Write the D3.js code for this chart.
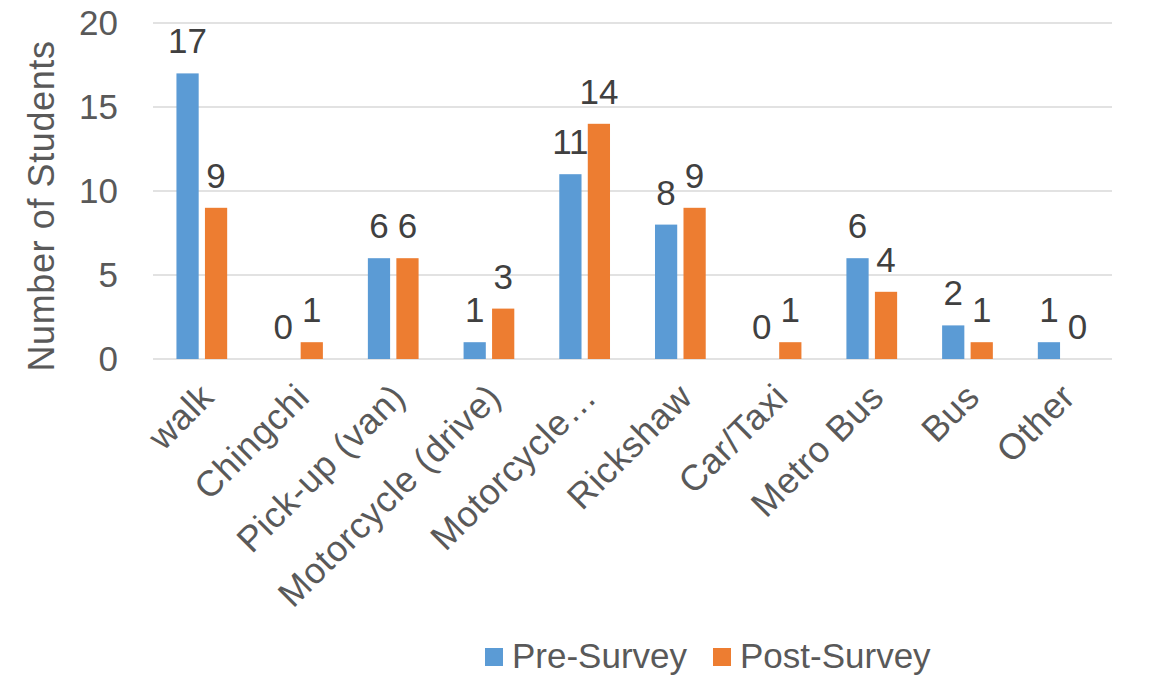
<!DOCTYPE html>
<html>
<head>
<meta charset="utf-8">
<script src="https://cdn.jsdelivr.net/npm/d3@7"></script>
<style>
  html, body { margin: 0; padding: 0; background: #fff; }
  svg { display: block; font-family: "Liberation Sans", Arial, sans-serif; }
</style>
</head>
<body>
<svg id="chart" width="1153" height="681"></svg>
<script>
const categories = ["walk", "Chingchi", "Pick-up (van)", "Motorcycle (drive)", "Motorcycle…", "Rickshaw", "Car/Taxi", "Metro Bus", "Bus", "Other"];
const preSurvey  = [17, 0, 6, 1, 11, 8, 0, 6, 2, 1];
const postSurvey = [9, 1, 6, 3, 14, 9, 1, 4, 1, 0];
const seriesNames = ["Pre-Survey", "Post-Survey"];
const seriesColors = ["#5b9bd5", "#ed7d31"];
const yTicks = [0, 5, 10, 15, 20];
const yTitle = "Number of Students";

const svg = d3.select("#chart");
const W = 1153, H = 681;
const m = { left: 153, right: 41, top: 23, bottom: 322 };
const x0 = d3.scaleBand().domain(categories).range([m.left, W - m.right]).paddingInner(0.47).paddingOuter(0.245);
const x1 = d3.scaleBand().domain(seriesNames).range([0, x0.bandwidth()]).paddingInner(0.22).paddingOuter(0);
const y = d3.scaleLinear().domain([0, 20]).range([H - m.bottom, m.top]);
const color = d3.scaleOrdinal().domain(seriesNames).range(seriesColors);

// gridlines
svg.append("g").selectAll("line").data(yTicks).join("line")
  .attr("x1", m.left).attr("x2", W - m.right)
  .attr("y1", d => y(d)).attr("y2", d => y(d))
  .attr("stroke", "#d9d9d9").attr("stroke-width", 1.5);

// y tick labels
const yAxis = d3.axisLeft(y).tickValues(yTicks).tickSize(0).tickPadding(35);
const gy = svg.append("g").attr("transform", `translate(${m.left},0)`).call(yAxis);
gy.select(".domain").remove();
gy.selectAll("text").attr("font-size", 35).attr("fill", "#595959").attr("font-family", "Liberation Sans, Arial, sans-serif");

// y title
svg.append("text")
  .attr("transform", `translate(54, 206) rotate(-90)`)
  .attr("text-anchor", "middle")
  .attr("font-size", 36).attr("letter-spacing", 0.6).attr("fill", "#595959")
  .text(yTitle);

// bars
const rows = categories.map((c, i) => ({ cat: c, vals: [
  { s: seriesNames[0], v: preSurvey[i] },
  { s: seriesNames[1], v: postSurvey[i] }
]}));
const groups = svg.append("g").selectAll("g").data(rows).join("g")
  .attr("transform", d => `translate(${x0(d.cat)},0)`);
groups.selectAll("rect").data(d => d.vals).join("rect")
  .attr("x", d => x1(d.s)).attr("width", x1.bandwidth())
  .attr("y", d => y(d.v)).attr("height", d => y(0) - y(d.v))
  .attr("fill", d => color(d.s));
groups.selectAll("text").data(d => d.vals).join("text")
  .attr("x", d => x1(d.s) + x1.bandwidth() / 2)
  .attr("y", d => y(d.v) - 20)
  .attr("text-anchor", "middle")
  .attr("font-size", 35).attr("fill", "#404040")
  .text(d => d.v);

// x labels
const xAxis = d3.axisBottom(x0).tickSize(0).tickPadding(0);
const gx = svg.append("g").attr("transform", `translate(0,${y(0)})`).call(xAxis);
gx.select(".domain").remove();
gx.selectAll("text")
  .attr("font-size", 36).attr("letter-spacing", 0.6).attr("fill", "#595959").attr("font-family", "Liberation Sans, Arial, sans-serif")
  .attr("text-anchor", "end")
  .attr("dy", "0.71em")
  .attr("transform", "translate(-4,22) rotate(-45)");

// legend
const legend = svg.append("g").attr("transform", "translate(485,648)");
const lx = [0, 228];
seriesNames.forEach((s, i) => {
  const g = legend.append("g").attr("transform", `translate(${lx[i]},0)`);
  g.append("rect").attr("width", 18).attr("height", 18).attr("fill", color(s));
  g.append("text").attr("x", 27).attr("y", 20).attr("font-size", 35).attr("fill", "#595959").text(s);
});
</script>
</body>
</html>
